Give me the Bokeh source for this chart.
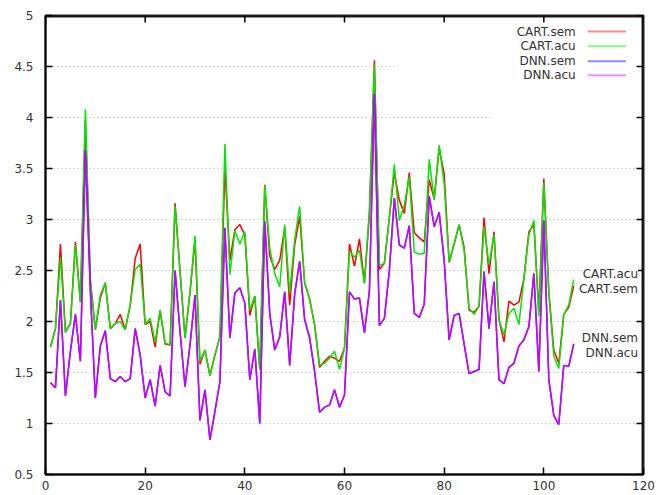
from bokeh.plotting import figure
from bokeh.models import (Label, FixedTicker, NumeralTickFormatter, Range1d, Span)
from bokeh.embed import file_html
from bokeh.resources import INLINE

# ---------------- data ----------------
x_vals = list(range(1, 107))

cart_sem = [1.75, 1.93, 2.76, 1.90, 1.98, 2.78, 2.19, 3.98, 2.40, 1.92,
            2.23, 2.38, 1.93, 1.98, 2.07, 1.92, 2.16, 2.62, 2.76, 1.97,
            2.00, 1.75, 2.11, 1.78, 1.77, 3.16, 2.49, 1.84, 2.29, 2.80,
            1.58, 1.72, 1.47, 1.67, 1.85, 3.50, 2.60, 2.90, 2.95, 2.85,
            2.06, 2.25, 1.53, 3.34, 2.64, 2.51, 2.60, 2.92, 2.16, 2.75,
            3.03, 2.38, 2.22, 1.97, 1.55, 1.61, 1.66, 1.64, 1.61, 1.74,
            2.76, 2.54, 2.81, 2.38, 3.05, 4.56, 2.51, 2.57, 3.02, 3.46,
            3.19, 3.06, 3.46, 2.87, 2.82, 2.78, 3.39, 3.20, 3.70, 3.45,
            2.58, 2.76, 2.95, 2.73, 2.11, 2.09, 2.15, 3.02, 2.47, 2.88,
            2.02, 1.80, 2.20, 2.16, 2.19, 2.42, 2.88, 2.95, 2.10, 3.40,
            2.29, 1.72, 1.59, 2.07, 2.14, 2.35]

cart_acu = [1.75, 1.93, 2.63, 1.89, 1.98, 2.75, 2.19, 4.08, 2.40, 1.92,
            2.26, 2.38, 1.93, 1.98, 2.00, 1.92, 2.16, 2.51, 2.56, 1.97,
            2.03, 1.80, 2.11, 1.79, 1.77, 3.13, 2.49, 1.84, 2.29, 2.84,
            1.61, 1.72, 1.47, 1.67, 1.85, 3.74, 2.46, 2.89, 2.76, 2.88,
            2.11, 2.25, 1.53, 3.33, 2.72, 2.47, 2.34, 2.95, 2.28, 2.80,
            3.13, 2.38, 2.22, 1.97, 1.57, 1.59, 1.64, 1.71, 1.53, 1.74,
            2.69, 2.63, 2.70, 2.37, 3.10, 4.52, 2.55, 2.57, 3.02, 3.54,
            2.99, 3.14, 3.42, 2.68, 2.66, 2.67, 3.59, 3.19, 3.73, 3.35,
            2.58, 2.76, 2.95, 2.70, 2.13, 2.07, 2.15, 2.93, 2.56, 2.85,
            2.02, 1.87, 2.08, 2.13, 1.97, 2.42, 2.85, 2.99, 2.05, 3.36,
            2.29, 1.66, 1.54, 2.07, 2.16, 2.41]

dnn_sem = [1.40, 1.35, 2.21, 1.27, 1.71, 2.07, 1.61, 3.68, 2.30, 1.25,
           1.76, 1.91, 1.44, 1.41, 1.46, 1.41, 1.44, 1.93, 1.67, 1.25,
           1.43, 1.17, 1.57, 1.31, 1.27, 2.50, 1.90, 1.36, 1.77, 2.26,
           1.03, 1.33, 0.84, 1.12, 1.41, 2.92, 1.84, 2.28, 2.33, 2.18,
           1.43, 1.73, 1.00, 2.98, 2.08, 1.72, 1.85, 2.29, 1.57, 2.27,
           2.59, 2.02, 1.84, 1.51, 1.11, 1.16, 1.18, 1.33, 1.16, 1.28,
           2.29, 2.22, 2.23, 1.89, 2.30, 4.23, 1.96, 2.03, 2.50, 3.21,
           2.75, 2.72, 2.94, 2.08, 2.04, 2.17, 3.23, 2.93, 3.07, 2.60,
           1.82, 2.06, 2.08, 1.78, 1.49, 1.51, 1.53, 2.49, 1.93, 2.39,
           1.43, 1.39, 1.55, 1.59, 1.76, 1.82, 1.95, 2.47, 1.51, 2.99,
           1.43, 1.08, 0.99, 1.57, 1.56, 1.78]

dnn_acu = [1.40, 1.35, 2.21, 1.27, 1.71, 2.07, 1.61, 3.68, 2.30, 1.25,
           1.76, 1.91, 1.44, 1.41, 1.46, 1.41, 1.44, 1.93, 1.67, 1.25,
           1.43, 1.17, 1.57, 1.31, 1.27, 2.50, 1.90, 1.36, 1.77, 2.26,
           1.03, 1.33, 0.84, 1.12, 1.41, 2.92, 1.84, 2.28, 2.33, 2.18,
           1.43, 1.73, 1.00, 2.98, 2.08, 1.72, 1.85, 2.29, 1.57, 2.27,
           2.59, 2.02, 1.84, 1.51, 1.11, 1.16, 1.18, 1.33, 1.16, 1.28,
           2.29, 2.22, 2.23, 1.89, 2.30, 4.23, 1.96, 2.03, 2.50, 3.21,
           2.75, 2.72, 2.94, 2.08, 2.04, 2.17, 3.23, 2.93, 3.07, 2.60,
           1.82, 2.06, 2.08, 1.78, 1.49, 1.51, 1.53, 2.49, 1.93, 2.39,
           1.43, 1.39, 1.55, 1.59, 1.76, 1.82, 1.95, 2.47, 1.51, 2.99,
           1.43, 1.08, 0.99, 1.57, 1.56, 1.78]

series_names = ["CART.sem", "CART.acu", "DNN.sem", "DNN.acu"]
x_ticks = [0, 20, 40, 60, 80, 100, 120]
y_ticks = [0.5, 1, 1.5, 2, 2.5, 3, 3.5, 4, 4.5, 5]

# ---------------- styling ----------------
FONT = "DejaVu Sans"
TXT = "#333333"
FRAME = "black"
colors = ["#ff0000", "#00e800", "#0000ff", "#ff00ff"]
alphas = [1.0, 1.0, 1.0, 0.8]

X0, X1, Y0, Y1 = 0, 120, 0.5, 5
FW, FH = 598.0, 459.0          # frame size in px
PX_X = (X1 - X0) / FW          # one pixel in x units
PX_Y = (Y1 - Y0) / FH          # one pixel in y units

p = figure(width=667, height=495, output_backend="svg", toolbar_location=None,
           x_range=Range1d(X0, X1), y_range=Range1d(Y0, Y1),
           min_border_left=45, min_border_right=24, min_border_top=15,
           min_border_bottom=21)

p.outline_line_color = FRAME
p.outline_line_width = 2
p.outline_line_alpha = 0.85

p.xgrid.visible = False
p.ygrid.visible = False

for ax in (p.xaxis[0], p.yaxis[0]):
    ax.axis_line_color = FRAME
    ax.axis_line_width = 2
    ax.axis_line_alpha = 0.85
    ax.major_tick_in = 7
    ax.major_tick_out = 0
    ax.major_tick_line_color = FRAME
    ax.major_tick_line_width = 1.5
    ax.minor_tick_line_color = None
    ax.major_label_text_font = FONT
    ax.major_label_text_font_size = "12px"
    ax.major_label_text_color = TXT
    ax.formatter = NumeralTickFormatter(format="0.[0]")

p.xaxis[0].ticker = FixedTicker(ticks=x_ticks)
p.yaxis[0].ticker = FixedTicker(ticks=y_ticks)
p.xaxis[0].major_label_standoff = 6
p.yaxis[0].major_label_standoff = 12

# dotted horizontal grid; the key area hides the two top lines on the right
grid_end = {4.5: 70.7, 4: 89.4}
inner = [t for t in y_ticks if Y0 < t < Y1]
p.segment(x0=[X0] * len(inner), y0=inner,
          x1=[grid_end.get(t, X1) for t in inner], y1=inner,
          line_color="#b4b4b4", line_width=1, line_dash="1 3")

# ---------------- lines ----------------
all_series = [cart_sem, cart_acu, dnn_sem, dnn_acu]
for ys, c, a in zip(all_series, colors, alphas):
    p.line(x_vals, ys, line_color=c, line_width=1.5, line_alpha=a)

# ---------------- frame: top / right edges and mirrored ticks ----------------
p.add_layout(Span(location=X1 - PX_X, dimension="height", line_color=FRAME,
                  line_width=2, line_alpha=0.85))
p.add_layout(Span(location=Y1 - PX_Y, dimension="width", line_color=FRAME,
                  line_width=2, line_alpha=0.85))
p.segment(x0=x_ticks, y0=[Y1] * len(x_ticks), x1=x_ticks,
          y1=[Y1 - 7 * PX_Y] * len(x_ticks), line_color=FRAME, line_width=1.5)
p.segment(x0=[X1] * len(y_ticks), y0=y_ticks, x1=[X1 - 7 * PX_X] * len(y_ticks),
          y1=y_ticks, line_color=FRAME, line_width=1.5)

# ---------------- key (gnuplot style: text then sample) ----------------
key_y = [4.843, 4.699, 4.552, 4.415]
for name, c, ky in zip(series_names, colors, key_y):
    p.add_layout(Label(x=106.4, y=ky, text=name, text_align="right",
                       text_baseline="middle", text_font=FONT,
                       text_font_size="12px", text_color=TXT))
    p.segment(x0=[108.8], y0=[ky], x1=[116.5], y1=[ky], line_color=c,
              line_width=2, line_alpha=0.45)

# ---------------- end-of-line labels ----------------
end_labels = [("CART.acu", 2.47), ("CART.sem", 2.32),
              ("DNN.sem", 1.84), ("DNN.acu", 1.69)]
for txt, ly in end_labels:
    p.add_layout(Label(x=118.9, y=ly, text=txt, text_align="right",
                       text_baseline="middle", text_font=FONT,
                       text_font_size="12px", text_color=TXT,
                       background_fill_color="white", background_fill_alpha=1))

open("out.html", "w").write(file_html(p, INLINE))
